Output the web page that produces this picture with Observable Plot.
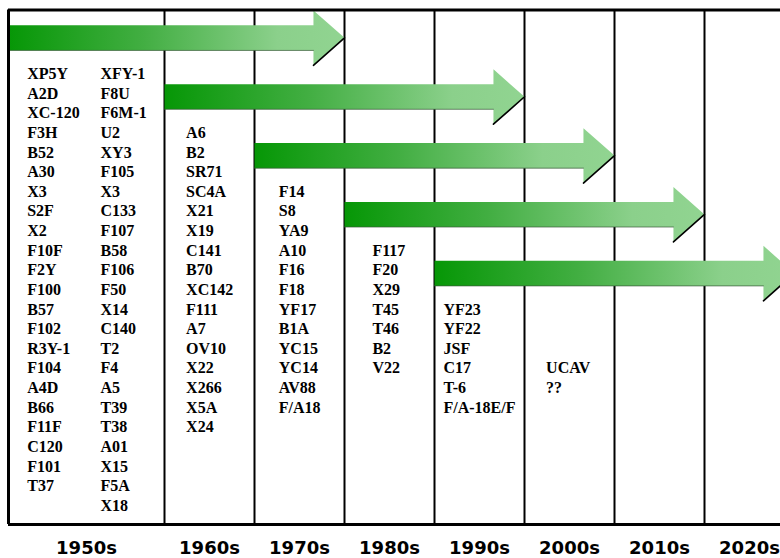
<!DOCTYPE html>
<html>
<head>
<meta charset="utf-8">
<script src="https://cdn.jsdelivr.net/npm/d3@7"></script>
<script src="https://cdn.jsdelivr.net/npm/@observablehq/plot@0.6"></script>
<style>
  html, body { margin: 0; padding: 0; background: #fff; }
  #chart svg { display: block; }
  #chart svg text.serif-list { font-family: "Liberation Serif", "Times New Roman", "DejaVu Serif", serif; }
</style>
</head>
<body>
<div id="chart"></div>
<script>
// ---- data ----
const decades = ["1950s", "1960s", "1970s", "1980s", "1990s", "2000s", "2010s", "2020s"];
const decadeStartYears = [1950, 1960, 1970, 1980, 1990, 2000, 2010, 2020];
const arrowStartYears = [1950, 1960, 1970, 1980, 1990];
const arrowEndYears = [1980, 2000, 2010, 2020, 2030];

const aircraft1950sA = ["XP5Y", "A2D", "XC-120", "F3H", "B52", "A30", "X3", "S2F", "X2", "F10F", "F2Y", "F100", "B57", "F102", "R3Y-1", "F104", "A4D", "B66", "F11F", "C120", "F101", "T37"];
const aircraft1950sB = ["XFY-1", "F8U", "F6M-1", "U2", "XY3", "F105", "X3", "C133", "F107", "B58", "F106", "F50", "X14", "C140", "T2", "F4", "A5", "T39", "T38", "A01", "X15", "F5A", "X18"];
const aircraft1960s = ["A6", "B2", "SR71", "SC4A", "X21", "X19", "C141", "B70", "XC142", "F111", "A7", "OV10", "X22", "X266", "X5A", "X24"];
const aircraft1970s = ["F14", "S8", "YA9", "A10", "F16", "F18", "YF17", "B1A", "YC15", "YC14", "AV88", "F/A18"];
const aircraft1980s = ["F117", "F20", "X29", "T45", "T46", "B2", "V22"];
const aircraft1990s = ["YF23", "YF22", "JSF", "C17", "T-6", "F/A-18E/F"];
const aircraft2000s = ["UCAV", "??"];

// ---- layout (in scale units: years on x, text rows on y) ----
const lists = [
  {names: aircraft1950sA, decade: 0, xText: 1951.2},
  {names: aircraft1950sB, decade: 0, xText: 1955.9},
  {names: aircraft1960s, decade: 1, xText: 1962.4},
  {names: aircraft1970s, decade: 2, xText: 1972.7},
  {names: aircraft1980s, decade: 3, xText: 1983.1},
  {names: aircraft1990s, decade: 4, xText: 1991.0},
  {names: aircraft2000s, decade: 5, xText: 2002.4}
];
const textRows = lists.flatMap(l => l.names.map((n, i) => ({name: n, x: l.xText, row: l.decade * 3 + i})));

const topRow = -3.26, bottomRow = 22.96, labelRow = 24.15;
const bodyHalf = 0.64, headHalf = 1.40, headLen = 3.45;

const arrowPolys = [];
const headEdges = [];
const bodyEdges = [];
arrowStartYears.forEach((s, k) => {
  const c = k * 3 - 1.84;
  const tip = arrowEndYears[k];
  const hb = tip - headLen;
  const pts = [
    [s, c - bodyHalf], [hb, c - bodyHalf], [hb, c - headHalf], [tip, c],
    [hb, c + headHalf], [hb, c + bodyHalf], [s, c + bodyHalf], [s, c - bodyHalf]
  ];
  pts.forEach(([x, y]) => arrowPolys.push({k, x, y}));
  headEdges.push({k, x: hb, y: c + headHalf}, {k, x: tip, y: c});
  bodyEdges.push({k, x: s, y: c + bodyHalf}, {k, x: hb, y: c + bodyHalf});
});

const labelData = decades.map((d, i) => ({label: d, x: decadeStartYears[i] + 5}));

function gradientDefs() {
  const ns = "http://www.w3.org/2000/svg";
  const defs = document.createElementNS(ns, "defs");
  const g = document.createElementNS(ns, "linearGradient");
  g.setAttribute("id", "arrowGrad");
  g.setAttribute("x1", "0"); g.setAttribute("x2", "1");
  g.setAttribute("y1", "0"); g.setAttribute("y2", "0");
  [["0", "#069706"], ["0.4", "#42ae42"], ["0.8", "#8bd08b"], ["1", "#91d491"]].forEach(([o, c]) => {
    const st = document.createElementNS(ns, "stop");
    st.setAttribute("offset", o);
    st.setAttribute("stop-color", c);
    g.appendChild(st);
  });
  defs.appendChild(g);
  return defs;
}

const chart = Plot.plot({
  width: 780,
  height: 558,
  margin: 0,
  x: {type: "linear", domain: [1950, 1960, 2030], range: [8, 164, 794], axis: null},
  y: {type: "linear", domain: [topRow, bottomRow], range: [9.5, 524], axis: null},
  marks: [
    gradientDefs,
    Plot.ruleX(decadeStartYears.slice(1), {y1: topRow, y2: bottomRow, stroke: "#000", strokeWidth: 2}),
    Plot.line(arrowPolys, {x: "x", y: "y", z: "k", fill: "url(#arrowGrad)", stroke: "none", curve: "linear"}),
    Plot.line(bodyEdges, {x: "x", y: "y", z: "k", stroke: "#3a5a3a", strokeWidth: 1, strokeOpacity: 0.7}),
    Plot.line(headEdges, {x: "x", y: "y", z: "k", stroke: "#000", strokeWidth: 1.6}),
    Plot.ruleY([topRow, bottomRow], {x1: 1950, x2: 2030, stroke: "#000", strokeWidth: 3}),
    Plot.ruleX([1950], {y1: topRow, y2: bottomRow, stroke: "#000", strokeWidth: 3}),
    Plot.text(textRows, {
      x: "x", y: "row", text: "name", textAnchor: "start", className: "serif-list",
      fontFamily: "Liberation Serif", fontWeight: "bold", fontSize: 16, fill: "#000"
    }),
    Plot.text(labelData, {
      x: "x", y: labelRow, text: "label", textAnchor: "middle",
      fontFamily: "DejaVu Sans", fontWeight: "bold", fontSize: 18, fill: "#000"
    })
  ]
});
chart.querySelectorAll("g[aria-label='text']").forEach((g, i) => {
  if (i === 0) g.querySelectorAll("text").forEach(t => t.style.fontFamily = "'Liberation Serif', 'Times New Roman', 'DejaVu Serif', serif");
});
document.getElementById("chart").appendChild(chart);
</script>
</body>
</html>
